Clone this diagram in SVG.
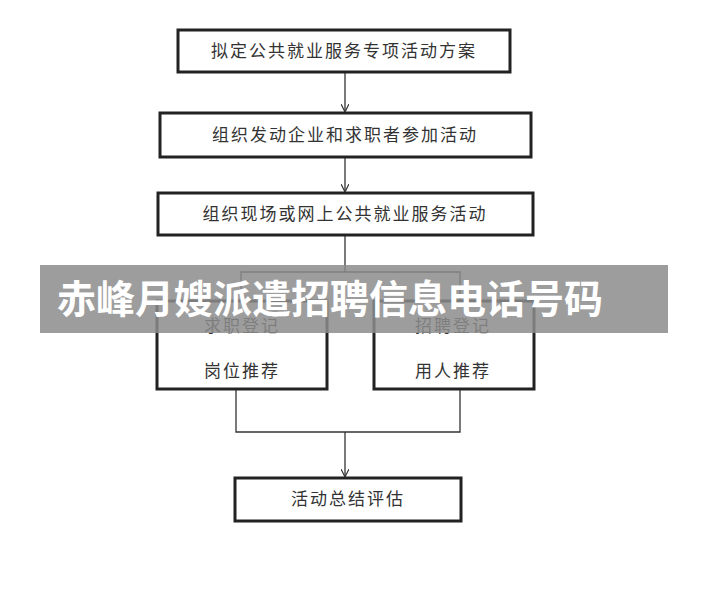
<svg xmlns="http://www.w3.org/2000/svg" width="710" height="600" viewBox="0 0 710 600">
<style>
.b{fill:#fff;stroke:#222;stroke-width:3}
.t{font-family:"Noto Sans CJK SC",sans-serif;font-size:17px;fill:#333;text-anchor:middle;letter-spacing:2px}
.c{fill:none;stroke:#333;stroke-width:1.3}
</style>
<defs><marker id="a" markerWidth="8" markerHeight="8" refX="7" refY="4" orient="auto" markerUnits="userSpaceOnUse"><path d="M0,0 L8,4 L0,8" fill="none" stroke="#333" stroke-width="1.2"/></marker></defs>
<rect width="710" height="600" fill="#fff"/>
<g id="connectors">
<line class="c" x1="345" y1="72" x2="345" y2="111" marker-end="url(#a)"/>
<line class="c" x1="345" y1="157" x2="345" y2="191" marker-end="url(#a)"/>
<line class="c" x1="345" y1="235" x2="345" y2="272"/>
<polyline class="c" points="241,300 241,272 460,272 460,300"/>
<polyline class="c" points="236,389 236,432 460,432 460,389"/>
<line class="c" x1="345" y1="432" x2="345" y2="476" marker-end="url(#a)"/>
</g>
<g id="n1"><rect class="b" x="178" y="30" width="332" height="42"/><text class="t" x="344" y="57">拟定公共就业服务专项活动方案</text></g>
<g id="n2"><rect class="b" x="160" y="113" width="371" height="44"/><text class="t" x="345" y="141">组织发动企业和求职者参加活动</text></g>
<g id="n3"><rect class="b" x="158" y="193" width="375" height="42"/><text class="t" x="345" y="220">组织现场或网上公共就业服务活动</text></g>
<g id="n4"><rect class="b" x="157" y="301" width="170" height="88"/><text class="t" x="242" y="332">求职登记</text><text class="t" x="242" y="377">岗位推荐</text></g>
<g id="n5"><rect class="b" x="374" y="301" width="160" height="88"/><text class="t" x="453" y="332">招聘登记</text><text class="t" x="453" y="377">用人推荐</text></g>
<g id="n6"><rect class="b" x="235" y="478" width="226" height="43"/><text class="t" x="348" y="505">活动总结评估</text></g>
<g id="banner"><rect x="40" y="265" width="628" height="68" fill="#8c8c8c" fill-opacity="0.85"/><text x="57" y="313" font-family="Noto Sans CJK SC,sans-serif" font-weight="bold" font-size="39" fill="#fff">赤峰月嫂派遣招聘信息电话号码</text></g>
</svg>
